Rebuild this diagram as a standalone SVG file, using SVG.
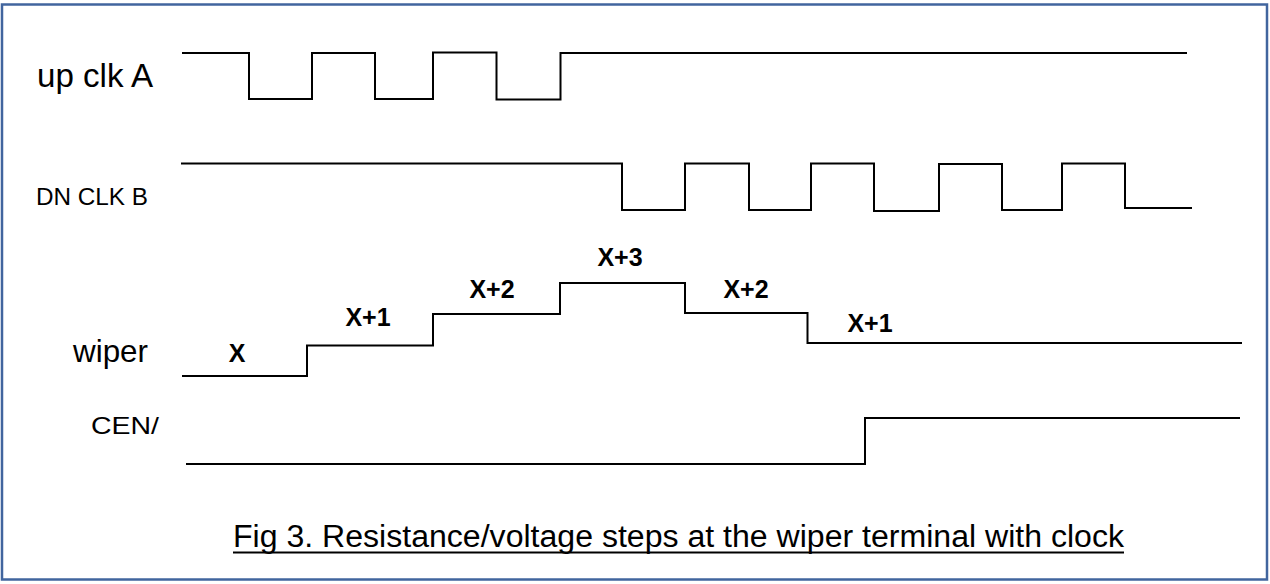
<svg xmlns="http://www.w3.org/2000/svg" width="1270" height="584" viewBox="0 0 1270 584">
<style>
.wave{fill:none;stroke:#000;stroke-width:2;stroke-linejoin:miter}
.lbl{font-family:"Liberation Sans",Arial,sans-serif;fill:#000}
.val{font-family:"Liberation Sans",Arial,sans-serif;font-weight:bold;font-size:25px;fill:#000;text-anchor:middle}
</style>
<rect x="2" y="4.5" width="1265" height="575" fill="#fff" stroke="#41659E" stroke-width="2.5"/>
<g id="upclk">
<text class="lbl" x="37" y="87" font-size="34" textLength="116" lengthAdjust="spacingAndGlyphs">up clk A</text>
</g>
<g id="dnclk">
<text class="lbl" x="36" y="205" font-size="23" textLength="112" lengthAdjust="spacingAndGlyphs">DN CLK B</text>
</g>
<g id="wiper">
<text class="lbl" x="73" y="362" font-size="32" textLength="75" lengthAdjust="spacingAndGlyphs">wiper</text>
<text class="val" x="237" y="362">X</text>
<text class="val" x="368" y="326">X+1</text>
<text class="val" x="492" y="298">X+2</text>
<text class="val" x="620" y="266">X+3</text>
<text class="val" x="746" y="298">X+2</text>
<text class="val" x="870" y="332">X+1</text>
</g>
<g id="cen">
<text class="lbl" x="91" y="434" font-size="24" textLength="68" lengthAdjust="spacingAndGlyphs">CEN/</text>
</g>
<g id="caption">
<text class="lbl" x="233" y="547" font-size="31" textLength="891" lengthAdjust="spacingAndGlyphs">Fig 3. Resistance/voltage steps at the wiper terminal with clock</text>
<line x1="233" y1="552.5" x2="1124" y2="552.5" stroke="#000" stroke-width="2"/>
</g>
<g id="connectors">
<path class="wave" d="M182 53 H249 V99 H312 V53 H375 V99 H433 V52.5 H496.5 V99.5 H560.5 V53 H1187"/>
<path class="wave" d="M181 163.5 H622 V210 H685 V163.5 H749 V210 H811 V163.5 H874 V211 H939 V164 H1002 V210 H1062 V163.5 H1125 V208 H1192"/>
<path class="wave" d="M182 376 H307 V345.5 H433 V314 H560 V283 H685 V313 H807.5 V343 H1242"/>
<path class="wave" d="M186 464 H865 V418 H1240"/>
</g>
</svg>
